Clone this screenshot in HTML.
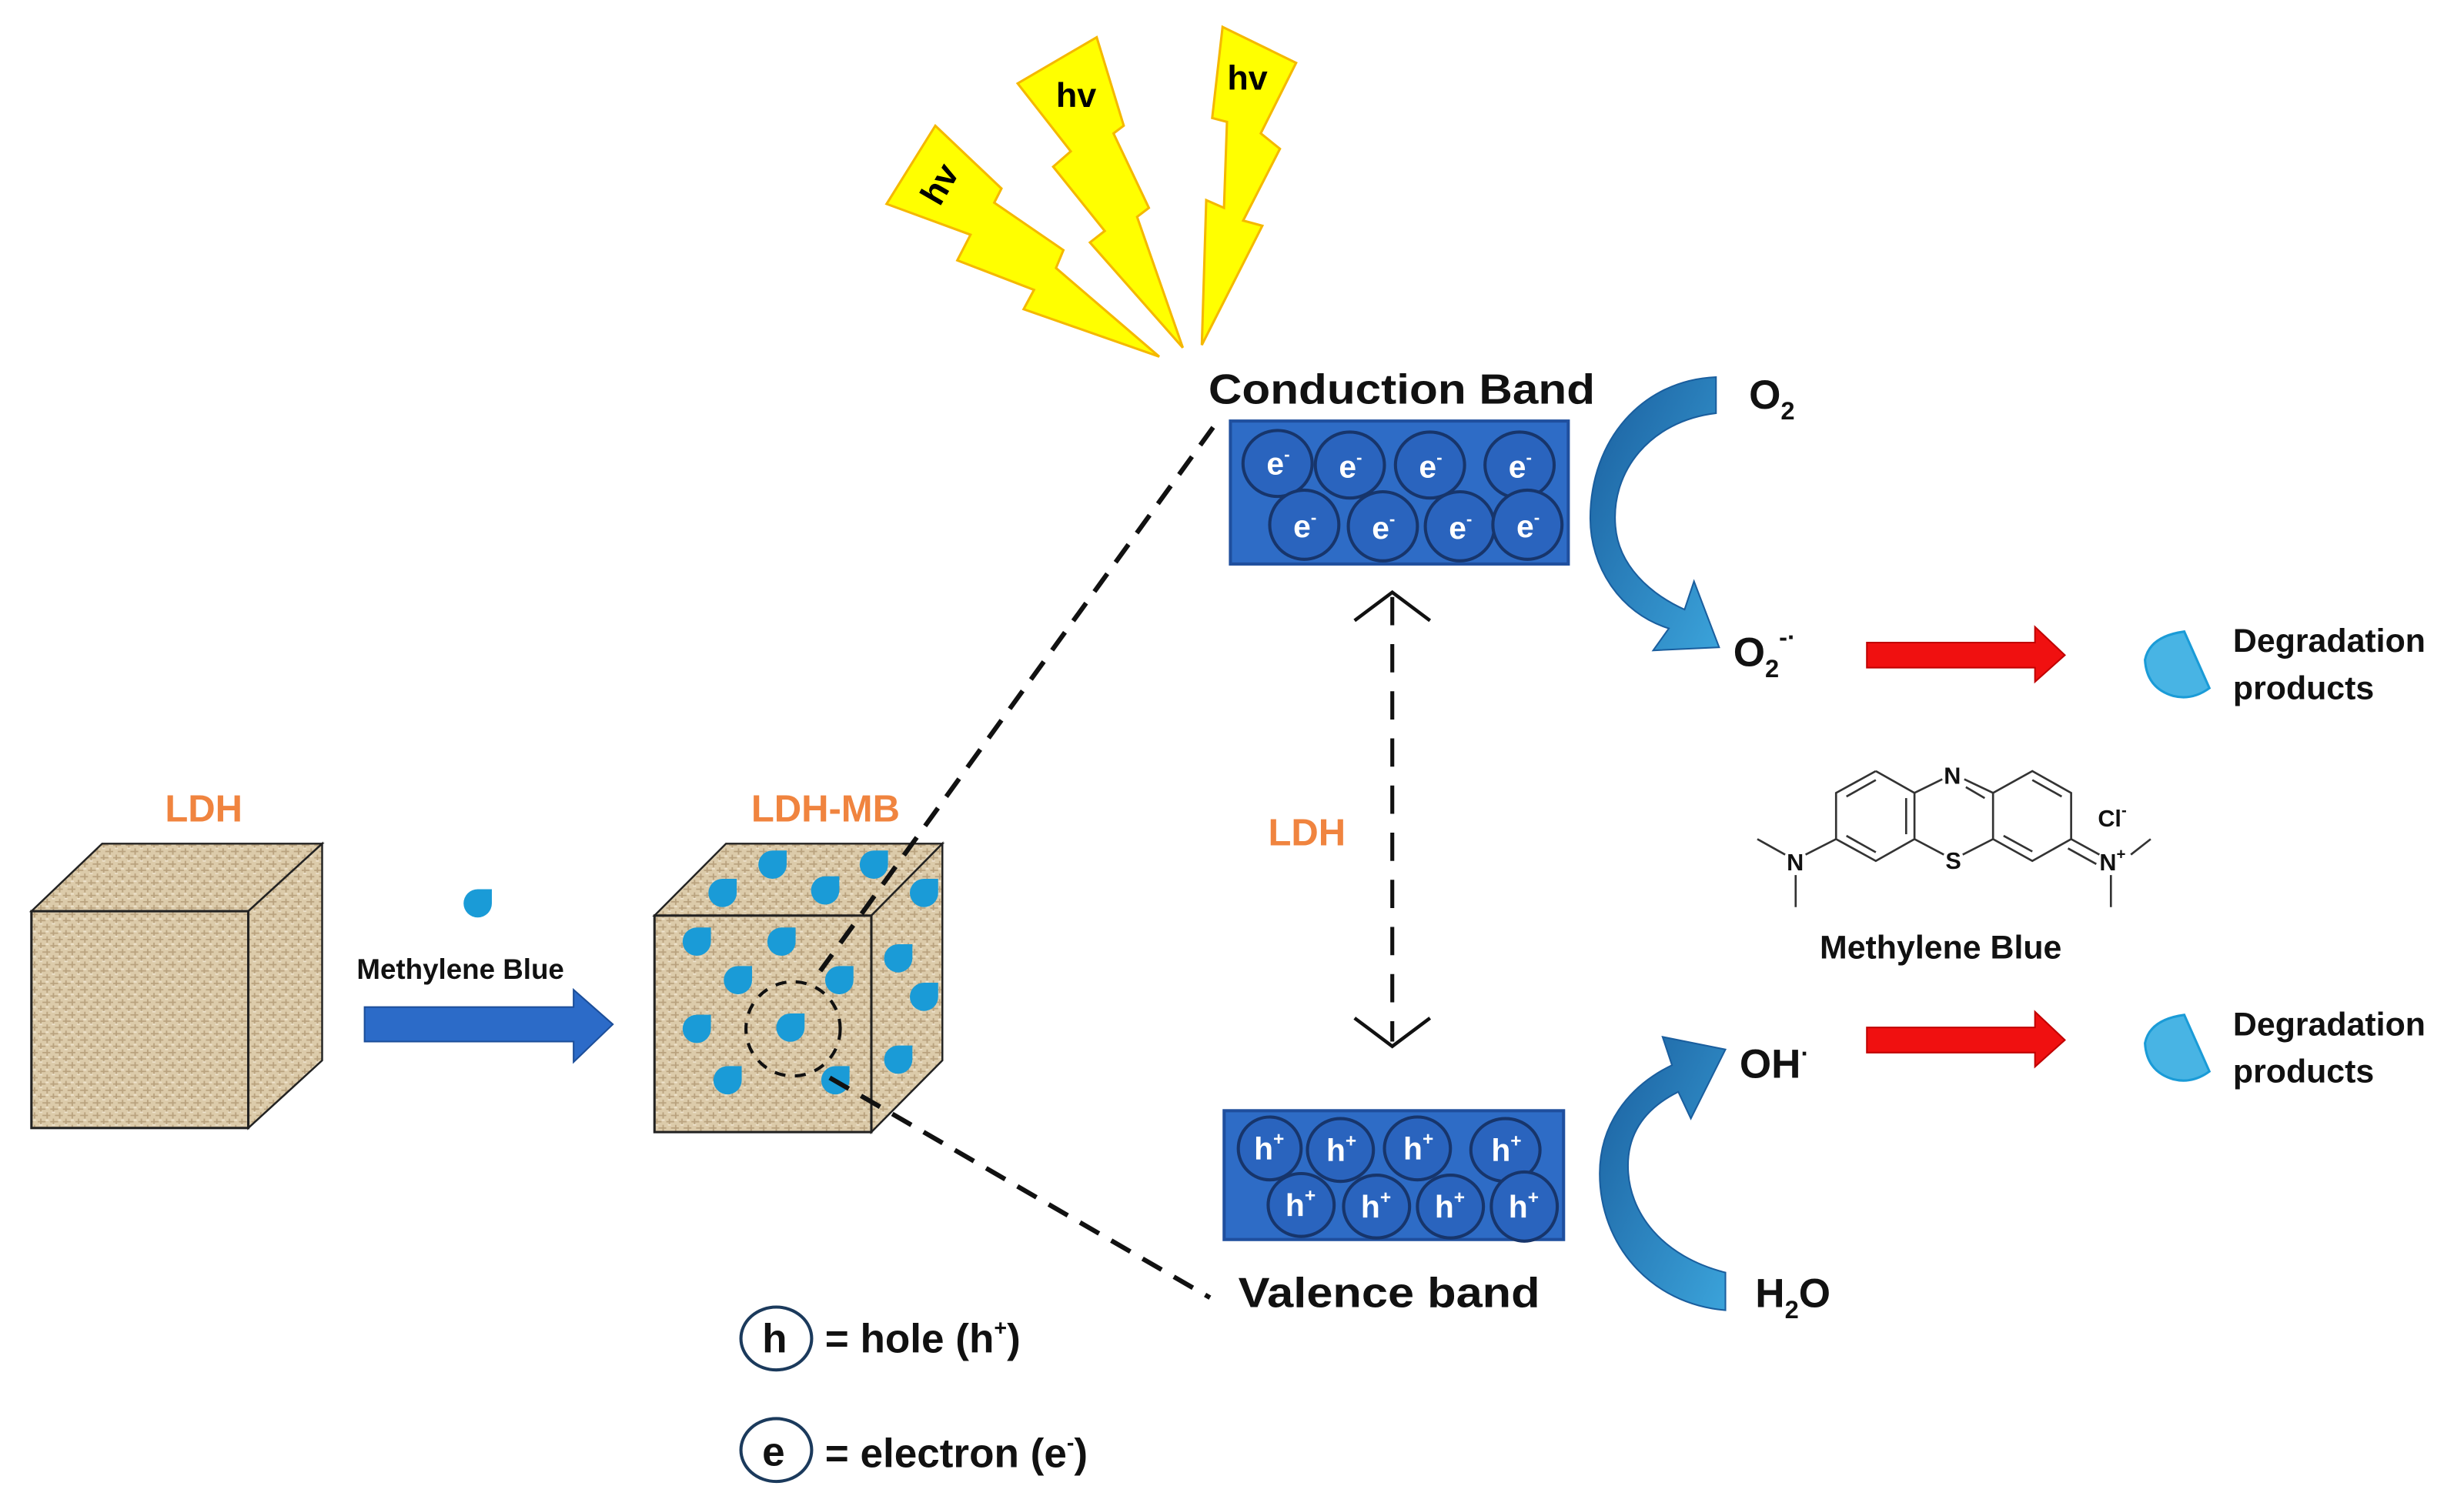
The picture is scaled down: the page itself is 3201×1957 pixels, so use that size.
<!DOCTYPE html>
<html><head><meta charset="utf-8"><style>
html,body{margin:0;padding:0;background:#fff}
svg{display:block}
text{font-family:"Liberation Sans",sans-serif;font-weight:bold}
</style></head><body>
<svg width="3201" height="1957" viewBox="0 0 1568 958.6" xmlns="http://www.w3.org/2000/svg">
<defs>
<pattern id="tex" width="8" height="8" patternUnits="userSpaceOnUse">
<rect width="8" height="8" fill="#DCCBAA"/>
<path d="M0,2h5M3,6h5M2,0v4M6,4v4" stroke="#B9A27E" stroke-width="0.9"/>
<path d="M1,4h2M5,1h2" stroke="#EFE4CF" stroke-width="0.9"/>
</pattern>
<linearGradient id="ag" x1="0" y1="0" x2="1" y2="1">
<stop offset="0" stop-color="#1A5E9E"/><stop offset="1" stop-color="#3BA3DA"/>
</linearGradient>
<path id="drop" d="M0,-9 L9,-9 L9,0 A9,9 0 1,1 0,-9 Z" fill="#1A9BD7"/>
</defs>

<g fill="#FFFF00" stroke="#F5B800" stroke-width="1.5" stroke-linejoin="miter">
<polygon points="595.2,80 637.3,120 632.7,129 676.7,159.2 672,170.6 737.7,227 651.4,196.8 658,184.5 609.2,165.7 617.6,149.4 564.2,129.8"/>
<polygon points="697.9,23.7 715.1,80 708.6,84.9 731.1,132.3 723.6,138 752.7,221.3 693.6,154.3 703,147 670.2,106.1 681.4,96.3 647.6,53.1"/>
<polygon points="778,17.1 824.8,40 802.3,84.9 814.5,94.7 791.1,140.4 803.3,143.7 764.8,219.6 767.6,127.4 778.9,132.3 780.8,77.6 771.4,75.1"/>
</g>
<text x="672" y="68" font-size="22" fill="#000">hv</text>
<text x="781" y="57" font-size="22" fill="#000">hv</text>
<text x="0" y="0" font-size="22" fill="#000" transform="translate(598,132) rotate(-60)">hv</text>

<polygon points="20,580 65,537 205,537 158,580" fill="url(#tex)" stroke="#222" stroke-width="1.2"/>
<polygon points="158,580 205,537 205,675 158,718" fill="url(#tex)" stroke="#222" stroke-width="1.2"/>
<rect x="20" y="580" width="138" height="138" fill="url(#tex)" stroke="#222" stroke-width="1.5"/>
<text x="105" y="523" font-size="24" fill="#F0843F" font-weight="normal">LDH</text>

<use href="#drop" x="304" y="575"/>
<text x="227" y="623" font-size="18" fill="#111">Methylene Blue</text>
<polygon points="232,641 365,641 365,630 390,652 365,676 365,663 232,663" fill="#2C6BC8" stroke="#1C4E99" stroke-width="1"/>

<polygon points="416.5,582.8 462,537 599.7,537 554.5,582.8" fill="url(#tex)" stroke="#222" stroke-width="1.2"/>
<polygon points="554.5,582.8 599.7,537 599.7,675 554.5,720.6" fill="url(#tex)" stroke="#222" stroke-width="1.2"/>
<rect x="416.5" y="582.8" width="138" height="137.8" fill="url(#tex)" stroke="#222" stroke-width="1.5"/>
<g>
<use href="#drop" x="491.6" y="550.4"/><use href="#drop" x="556.1" y="550.4"/>
<use href="#drop" x="459.8" y="568.4"/><use href="#drop" x="525.1" y="566.8"/>
<use href="#drop" x="588" y="568.4"/><use href="#drop" x="443.4" y="599.4"/>
<use href="#drop" x="497.3" y="599.4"/><use href="#drop" x="469.6" y="623.9"/>
<use href="#drop" x="534.1" y="623.9"/><use href="#drop" x="571.6" y="610"/>
<use href="#drop" x="588" y="634.5"/><use href="#drop" x="443.4" y="654.9"/>
<use href="#drop" x="503" y="654.1"/><use href="#drop" x="571.6" y="674.5"/>
<use href="#drop" x="463" y="687.6"/><use href="#drop" x="531.6" y="687.6"/>
</g>
<circle cx="504.7" cy="654.9" r="30" fill="none" stroke="#111" stroke-width="2" stroke-dasharray="7,6"/>
<text x="478" y="523" font-size="24" fill="#F0843F" font-weight="normal">LDH-MB</text>

<line x1="772" y1="272" x2="522" y2="618" stroke="#111" stroke-width="3" stroke-dasharray="14,9"/>
<line x1="528" y1="686" x2="770" y2="826" stroke="#111" stroke-width="3" stroke-dasharray="14,9"/>

<text x="769" y="257" font-size="27" fill="#111" textLength="246" lengthAdjust="spacingAndGlyphs">Conduction Band</text>
<rect x="783" y="268" width="215" height="91" fill="#2E6CC6" stroke="#1F4F9E" stroke-width="2"/>
<g fill="#2A64BE" stroke="#17356B" stroke-width="2">
<ellipse cx="813" cy="295" rx="22" ry="21"/><ellipse cx="859" cy="296" rx="22" ry="21"/>
<ellipse cx="910" cy="296" rx="22" ry="21"/><ellipse cx="967" cy="296" rx="22" ry="21"/>
<ellipse cx="830" cy="334" rx="22" ry="22"/><ellipse cx="880" cy="335" rx="22" ry="22"/>
<ellipse cx="929" cy="335" rx="22" ry="22"/><ellipse cx="972" cy="334" rx="22" ry="22"/>
</g>
<g fill="#fff" font-size="20">
<text x="806" y="302">e<tspan font-size="11" dy="-9">-</tspan></text>
<text x="852" y="304">e<tspan font-size="11" dy="-9">-</tspan></text>
<text x="903" y="304">e<tspan font-size="11" dy="-9">-</tspan></text>
<text x="960" y="304">e<tspan font-size="11" dy="-9">-</tspan></text>
<text x="823" y="342">e<tspan font-size="11" dy="-9">-</tspan></text>
<text x="873" y="343">e<tspan font-size="11" dy="-9">-</tspan></text>
<text x="922" y="343">e<tspan font-size="11" dy="-9">-</tspan></text>
<text x="965" y="342">e<tspan font-size="11" dy="-9">-</tspan></text>
</g>

<line x1="886" y1="380" x2="886" y2="663" stroke="#111" stroke-width="2.5" stroke-dasharray="18,12"/>
<polyline points="862,395 886,377 910,395" fill="none" stroke="#111" stroke-width="2.2"/>
<polyline points="862,648 886,666 910,648" fill="none" stroke="#111" stroke-width="2.2"/>
<text x="807" y="538" font-size="24" fill="#F0843F" font-weight="normal">LDH</text>

<rect x="779" y="707" width="216" height="82" fill="#2E6CC6" stroke="#1F4F9E" stroke-width="2"/>
<g fill="#2A64BE" stroke="#17356B" stroke-width="2">
<ellipse cx="808" cy="731" rx="20" ry="20"/><ellipse cx="853" cy="732" rx="21" ry="20"/>
<ellipse cx="902" cy="731" rx="21" ry="20"/><ellipse cx="958" cy="732" rx="22" ry="20"/>
<ellipse cx="828" cy="767" rx="21" ry="20"/><ellipse cx="876" cy="768" rx="21" ry="20"/>
<ellipse cx="923" cy="768" rx="21" ry="20"/><ellipse cx="970" cy="768" rx="21" ry="22"/>
</g>
<g fill="#fff" font-size="20">
<text x="798" y="738">h<tspan font-size="12" dy="-9">+</tspan></text>
<text x="844" y="739">h<tspan font-size="12" dy="-9">+</tspan></text>
<text x="893" y="738">h<tspan font-size="12" dy="-9">+</tspan></text>
<text x="949" y="739">h<tspan font-size="12" dy="-9">+</tspan></text>
<text x="818" y="774">h<tspan font-size="12" dy="-9">+</tspan></text>
<text x="866" y="775">h<tspan font-size="12" dy="-9">+</tspan></text>
<text x="913" y="775">h<tspan font-size="12" dy="-9">+</tspan></text>
<text x="960" y="775">h<tspan font-size="12" dy="-9">+</tspan></text>
</g>
<text x="788" y="832" font-size="27" fill="#111" textLength="192" lengthAdjust="spacingAndGlyphs">Valence band</text>

<path d="M1092,240 L1092,263 C1050,268 1025,300 1028,335 C1030,360 1050,378 1072,388 L1078,370 L1094,412 L1052,414 L1062,400 C1030,390 1012,360 1012,330 C1012,280 1045,242 1092,240 Z" fill="url(#ag)" stroke="#1A5E9E" stroke-width="1"/>
<path d="M1098,834 L1098,810 C1058,800 1036,772 1036,742 C1036,720 1048,705 1068,695 L1076,712 L1098,668 L1058,660 L1064,678 C1035,692 1018,717 1018,747 C1018,792 1050,830 1098,834 Z" fill="url(#ag)" stroke="#1A5E9E" stroke-width="1"/>

<text x="1113" y="260" font-size="26" fill="#111">O<tspan font-size="16" dy="7">2</tspan></text>
<text x="1103" y="424" font-size="26" fill="#111">O<tspan font-size="16" dy="7">2</tspan><tspan font-size="16" dy="-20">-·</tspan></text>
<text x="1107" y="686" font-size="26" fill="#111">OH<tspan font-size="16" dy="-10">·</tspan></text>
<text x="1117" y="832" font-size="26" fill="#111">H<tspan font-size="16" dy="7">2</tspan><tspan dy="-7">O</tspan></text>

<polygon points="1188,409 1295,409 1295,399 1314,417 1295,434 1295,425 1188,425" fill="#F01010" stroke="#C00000" stroke-width="1"/>
<polygon points="1188,654 1295,654 1295,644 1314,662 1295,679 1295,670 1188,670" fill="#F01010" stroke="#C00000" stroke-width="1"/>

<path d="M1390,402 L1406,438 Q1395,446 1383,443 Q1366,438 1365,420 Q1368,405 1390,402 Z" fill="#48B4E4" stroke="#1A9BD7" stroke-width="1.5"/>
<path d="M1390,646 L1406,682 Q1395,690 1383,687 Q1366,682 1365,664 Q1368,649 1390,646 Z" fill="#48B4E4" stroke="#1A9BD7" stroke-width="1.5"/>
<g font-size="21" fill="#111">
<text x="1421" y="415">Degradation</text><text x="1421" y="445">products</text>
<text x="1421" y="659">Degradation</text><text x="1421" y="689">products</text>
</g>

<g stroke="#333" stroke-width="1.3" fill="none">
<polyline points="1193.7,490.8 1168.4,504.7 1168.4,534.1 1193.7,548 1218.3,534.1 1218.3,504.7 1193.7,490.8"/>
<line x1="1175" y1="507" x2="1193.7" y2="496.5"/><line x1="1175" y1="532" x2="1193.7" y2="542.5"/><line x1="1213" y1="508" x2="1213" y2="531"/>
<line x1="1218.3" y1="504.7" x2="1236" y2="496"/><line x1="1250" y1="496" x2="1268.3" y2="504.7"/><line x1="1251" y1="501" x2="1263" y2="508"/>
<line x1="1218.3" y1="534.1" x2="1237" y2="544"/><line x1="1249" y1="544" x2="1268.3" y2="534.1"/>
<polyline points="1268.3,504.7 1293.3,490.8 1318,504.7 1318,534.1 1293.3,548 1268.3,534.1 1268.3,504.7"/>
<line x1="1293.3" y1="496.5" x2="1312" y2="507"/><line x1="1275" y1="532" x2="1293.3" y2="542"/>
<line x1="1168.4" y1="534.1" x2="1149" y2="544"/><line x1="1136" y1="544" x2="1118.3" y2="534.1"/><line x1="1142.7" y1="557" x2="1142.7" y2="577.4"/>
<line x1="1318" y1="534.1" x2="1336" y2="544"/><line x1="1316" y1="540" x2="1334" y2="550"/><line x1="1356" y1="544" x2="1368.6" y2="534.1"/><line x1="1343.3" y1="557" x2="1343.3" y2="577.4"/>
</g>
<g fill="#111" font-size="15">
<text x="1237" y="499">N</text><text x="1238" y="553">S</text>
<text x="1137" y="554">N</text><text x="1336" y="554">N<tspan font-size="10" dy="-7">+</tspan></text>
<text x="1335" y="526">Cl<tspan font-size="10" dy="-7">-</tspan></text>
</g>
<text x="1158" y="610" font-size="21" fill="#111">Methylene Blue</text>

<ellipse cx="494" cy="852" rx="22.5" ry="20" fill="none" stroke="#1B3A5C" stroke-width="2"/>
<text x="485" y="861" font-size="26" fill="#111">h</text>
<text x="525" y="861" font-size="26" fill="#111">= hole (h<tspan font-size="14" dy="-11">+</tspan><tspan dy="11">)</tspan></text>
<ellipse cx="494" cy="923" rx="22.5" ry="20" fill="none" stroke="#1B3A5C" stroke-width="2"/>
<text x="485" y="933" font-size="26" fill="#111">e</text>
<text x="525" y="934" font-size="26" fill="#111">= electron (e<tspan font-size="14" dy="-11">-</tspan><tspan dy="11">)</tspan></text>
</svg>
</body></html>
